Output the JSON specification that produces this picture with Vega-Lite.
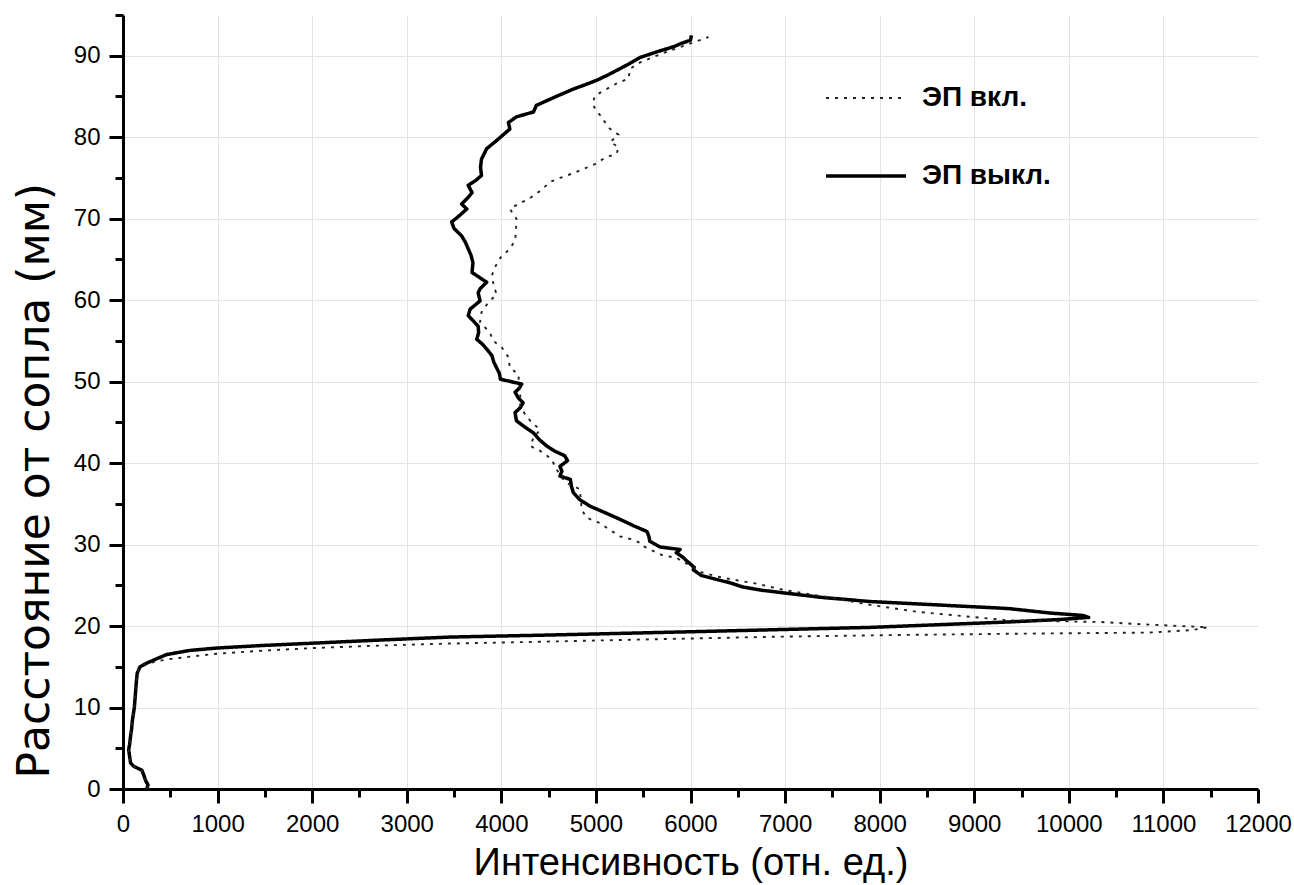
{
  "$schema": "https://vega.github.io/schema/vega-lite/v6.json",
  "width": 1135,
  "height": 774,
  "autosize": {"type": "none"},
  "padding": {"left": 123, "top": 15, "right": 36, "bottom": 96},
  "background": "white",
  "config": {
    "view": {"stroke": null},
    "font": "Liberation Sans",
    "axis": {"labelColor": "black", "titleColor": "black", "tickColor": "black", "domainColor": "black"}
  },
  "datasets": {
    "raw": [
      {"s":"ЭП выкл.","d":0,"i":250},{"s":"ЭП выкл.","d":0.5,"i":265},{"s":"ЭП выкл.","d":1,"i":240},{"s":"ЭП выкл.","d":1.7,"i":220},{"s":"ЭП выкл.","d":2.3,"i":200},{"s":"ЭП выкл.","d":2.8,"i":110},{"s":"ЭП выкл.","d":3.2,"i":80},{"s":"ЭП выкл.","d":4,"i":70},{"s":"ЭП выкл.","d":4.8,"i":60},{"s":"ЭП выкл.","d":5.5,"i":70},{"s":"ЭП выкл.","d":6.5,"i":80},{"s":"ЭП выкл.","d":7.3,"i":90},{"s":"ЭП выкл.","d":8.5,"i":100},{"s":"ЭП выкл.","d":10,"i":120},{"s":"ЭП выкл.","d":11.5,"i":130},{"s":"ЭП выкл.","d":13,"i":140},{"s":"ЭП выкл.","d":14.2,"i":150},{"s":"ЭП выкл.","d":15,"i":180},{"s":"ЭП выкл.","d":15.5,"i":260},{"s":"ЭП выкл.","d":16,"i":360},{"s":"ЭП выкл.","d":16.5,"i":461},{"s":"ЭП выкл.","d":17,"i":700},{"s":"ЭП выкл.","d":17.3,"i":990},{"s":"ЭП выкл.","d":17.6,"i":1450},{"s":"ЭП выкл.","d":17.9,"i":2012},{"s":"ЭП выкл.","d":18.3,"i":2750},{"s":"ЭП выкл.","d":18.65,"i":3457},{"s":"ЭП выкл.","d":18.9,"i":4515},{"s":"ЭП выкл.","d":19.3,"i":6000},{"s":"ЭП выкл.","d":19.84,"i":7910},{"s":"ЭП выкл.","d":20.5,"i":9360},{"s":"ЭП выкл.","d":20.8,"i":9900},{"s":"ЭП выкл.","d":21.06,"i":10210},{"s":"ЭП выкл.","d":21.3,"i":10150},{"s":"ЭП выкл.","d":21.6,"i":9800},{"s":"ЭП выкл.","d":22.15,"i":9360},{"s":"ЭП выкл.","d":22.6,"i":8600},{"s":"ЭП выкл.","d":23,"i":7910},{"s":"ЭП выкл.","d":23.5,"i":7400},{"s":"ЭП выкл.","d":24,"i":7036},{"s":"ЭП выкл.","d":24.4,"i":6750},{"s":"ЭП выкл.","d":24.8,"i":6551},{"s":"ЭП выкл.","d":25.3,"i":6420},{"s":"ЭП выкл.","d":25.8,"i":6250},{"s":"ЭП выкл.","d":26.2,"i":6115},{"s":"ЭП выкл.","d":26.9,"i":6030},{"s":"ЭП выкл.","d":27.2,"i":6040},{"s":"ЭП выкл.","d":28,"i":5960},{"s":"ЭП выкл.","d":28.45,"i":5920},{"s":"ЭП выкл.","d":29,"i":5850},{"s":"ЭП выкл.","d":29.4,"i":5890},{"s":"ЭП выкл.","d":29.7,"i":5680},{"s":"ЭП выкл.","d":30.4,"i":5570},{"s":"ЭП выкл.","d":31,"i":5560},{"s":"ЭП выкл.","d":31.6,"i":5540},{"s":"ЭП выкл.","d":32.3,"i":5400},{"s":"ЭП выкл.","d":33.1,"i":5255},{"s":"ЭП выкл.","d":33.9,"i":5100},{"s":"ЭП выкл.","d":34.7,"i":4940},{"s":"ЭП выкл.","d":35.5,"i":4830},{"s":"ЭП выкл.","d":36.4,"i":4760},{"s":"ЭП выкл.","d":37.2,"i":4740},{"s":"ЭП выкл.","d":38,"i":4730},{"s":"ЭП выкл.","d":38.4,"i":4620},{"s":"ЭП выкл.","d":39,"i":4640},{"s":"ЭП выкл.","d":39.6,"i":4620},{"s":"ЭП выкл.","d":40.3,"i":4700},{"s":"ЭП выкл.","d":40.9,"i":4670},{"s":"ЭП выкл.","d":41.5,"i":4560},{"s":"ЭП выкл.","d":42.1,"i":4480},{"s":"ЭП выкл.","d":42.9,"i":4400},{"s":"ЭП выкл.","d":43.7,"i":4340},{"s":"ЭП выкл.","d":44.5,"i":4240},{"s":"ЭП выкл.","d":45.2,"i":4160},{"s":"ЭП выкл.","d":46.2,"i":4145},{"s":"ЭП выкл.","d":46.8,"i":4200},{"s":"ЭП выкл.","d":47.4,"i":4230},{"s":"ЭП выкл.","d":48,"i":4180},{"s":"ЭП выкл.","d":48.7,"i":4145},{"s":"ЭП выкл.","d":49.2,"i":4190},{"s":"ЭП выкл.","d":49.7,"i":4215},{"s":"ЭП выкл.","d":50.3,"i":3990},{"s":"ЭП выкл.","d":51,"i":3980},{"s":"ЭП выкл.","d":51.7,"i":3950},{"s":"ЭП выкл.","d":52.4,"i":3920},{"s":"ЭП выкл.","d":53.2,"i":3900},{"s":"ЭП выкл.","d":54,"i":3845},{"s":"ЭП выкл.","d":54.6,"i":3800},{"s":"ЭП выкл.","d":55.2,"i":3740},{"s":"ЭП выкл.","d":56,"i":3760},{"s":"ЭП выкл.","d":56.8,"i":3755},{"s":"ЭП выкл.","d":57.5,"i":3700},{"s":"ЭП выкл.","d":58.1,"i":3650},{"s":"ЭП выкл.","d":58.9,"i":3670},{"s":"ЭП выкл.","d":59.9,"i":3775},{"s":"ЭП выкл.","d":60.9,"i":3755},{"s":"ЭП выкл.","d":61.4,"i":3775},{"s":"ЭП выкл.","d":62.2,"i":3845},{"s":"ЭП выкл.","d":63.4,"i":3690},{"s":"ЭП выкл.","d":64.6,"i":3700},{"s":"ЭП выкл.","d":65.5,"i":3680},{"s":"ЭП выкл.","d":66.3,"i":3650},{"s":"ЭП выкл.","d":67.1,"i":3620},{"s":"ЭП выкл.","d":67.9,"i":3580},{"s":"ЭП выкл.","d":68.8,"i":3500},{"s":"ЭП выкл.","d":69.6,"i":3475},{"s":"ЭП выкл.","d":70.4,"i":3560},{"s":"ЭП выкл.","d":71.2,"i":3635},{"s":"ЭП выкл.","d":71.8,"i":3580},{"s":"ЭП выкл.","d":72.5,"i":3640},{"s":"ЭП выкл.","d":73.2,"i":3690},{"s":"ЭП выкл.","d":74.1,"i":3650},{"s":"ЭП выкл.","d":74.7,"i":3730},{"s":"ЭП выкл.","d":75.3,"i":3790},{"s":"ЭП выкл.","d":76.3,"i":3780},{"s":"ЭП выкл.","d":77.3,"i":3790},{"s":"ЭП выкл.","d":78,"i":3820},{"s":"ЭП выкл.","d":78.6,"i":3845},{"s":"ЭП выкл.","d":79.4,"i":3930},{"s":"ЭП выкл.","d":80.2,"i":4010},{"s":"ЭП выкл.","d":81,"i":4090},{"s":"ЭП выкл.","d":81.8,"i":4075},{"s":"ЭП выкл.","d":82.5,"i":4160},{"s":"ЭП выкл.","d":83.1,"i":4340},{"s":"ЭП выкл.","d":83.9,"i":4370},{"s":"ЭП выкл.","d":84.9,"i":4560},{"s":"ЭП выкл.","d":85.9,"i":4760},{"s":"ЭП выкл.","d":86.5,"i":4900},{"s":"ЭП выкл.","d":87,"i":5010},{"s":"ЭП выкл.","d":87.6,"i":5120},{"s":"ЭП выкл.","d":88.2,"i":5220},{"s":"ЭП выкл.","d":89,"i":5350},{"s":"ЭП выкл.","d":89.8,"i":5470},{"s":"ЭП выкл.","d":90.5,"i":5650},{"s":"ЭП выкл.","d":91.1,"i":5820},{"s":"ЭП выкл.","d":91.5,"i":5900},{"s":"ЭП выкл.","d":91.9,"i":6000},{"s":"ЭП выкл.","d":92.5,"i":6010},
      {"s":"ЭП вкл.","d":0,"i":250},{"s":"ЭП вкл.","d":0.5,"i":265},{"s":"ЭП вкл.","d":1,"i":240},{"s":"ЭП вкл.","d":1.7,"i":220},{"s":"ЭП вкл.","d":2.3,"i":200},{"s":"ЭП вкл.","d":2.8,"i":110},{"s":"ЭП вкл.","d":3.2,"i":80},{"s":"ЭП вкл.","d":4,"i":70},{"s":"ЭП вкл.","d":4.8,"i":60},{"s":"ЭП вкл.","d":5.5,"i":70},{"s":"ЭП вкл.","d":6.5,"i":80},{"s":"ЭП вкл.","d":7.3,"i":90},{"s":"ЭП вкл.","d":8.5,"i":100},{"s":"ЭП вкл.","d":10,"i":120},{"s":"ЭП вкл.","d":11.5,"i":130},{"s":"ЭП вкл.","d":13,"i":140},{"s":"ЭП вкл.","d":14.2,"i":150},{"s":"ЭП вкл.","d":15,"i":180},{"s":"ЭП вкл.","d":15.4,"i":250},{"s":"ЭП вкл.","d":15.9,"i":461},{"s":"ЭП вкл.","d":16.3,"i":750},{"s":"ЭП вкл.","d":16.6,"i":990},{"s":"ЭП вкл.","d":17,"i":1500},{"s":"ЭП вкл.","d":17.3,"i":2012},{"s":"ЭП вкл.","d":17.6,"i":2700},{"s":"ЭП вкл.","d":17.85,"i":3460},{"s":"ЭП вкл.","d":18.1,"i":4515},{"s":"ЭП вкл.","d":18.4,"i":5700},{"s":"ЭП вкл.","d":18.7,"i":6940},{"s":"ЭП вкл.","d":18.9,"i":8200},{"s":"ЭП вкл.","d":19.05,"i":9360},{"s":"ЭП вкл.","d":19.2,"i":10844},{"s":"ЭП вкл.","d":19.5,"i":11300},{"s":"ЭП вкл.","d":19.85,"i":11470},{"s":"ЭП вкл.","d":20.2,"i":10800},{"s":"ЭП вкл.","d":20.5,"i":10330},{"s":"ЭП вкл.","d":20.7,"i":9360},{"s":"ЭП вкл.","d":21.2,"i":8900},{"s":"ЭП вкл.","d":21.75,"i":8395},{"s":"ЭП вкл.","d":22.6,"i":7900},{"s":"ЭП вкл.","d":23.6,"i":7425},{"s":"ЭП вкл.","d":24.4,"i":7000},{"s":"ЭП вкл.","d":25.2,"i":6700},{"s":"ЭП вкл.","d":25.9,"i":6350},{"s":"ЭП вкл.","d":26.6,"i":6115},{"s":"ЭП вкл.","d":27.3,"i":6020},{"s":"ЭП вкл.","d":28,"i":5900},{"s":"ЭП вкл.","d":28.35,"i":5860},{"s":"ЭП вкл.","d":28.7,"i":5700},{"s":"ЭП вкл.","d":29.2,"i":5610},{"s":"ЭП вкл.","d":29.8,"i":5500},{"s":"ЭП вкл.","d":30.1,"i":5485},{"s":"ЭП вкл.","d":30.6,"i":5395},{"s":"ЭП вкл.","d":31,"i":5255},{"s":"ЭП вкл.","d":31.8,"i":5150},{"s":"ЭП вкл.","d":32.7,"i":5030},{"s":"ЭП вкл.","d":33.3,"i":4900},{"s":"ЭП вкл.","d":34.3,"i":4850},{"s":"ЭП вкл.","d":35.5,"i":4840},{"s":"ЭП вкл.","d":36.8,"i":4830},{"s":"ЭП вкл.","d":37.5,"i":4700},{"s":"ЭП вкл.","d":38.2,"i":4640},{"s":"ЭП вкл.","d":39.2,"i":4585},{"s":"ЭП вкл.","d":40.5,"i":4530},{"s":"ЭП вкл.","d":41.5,"i":4410},{"s":"ЭП вкл.","d":42.1,"i":4305},{"s":"ЭП вкл.","d":43.1,"i":4340},{"s":"ЭП вкл.","d":44.1,"i":4410},{"s":"ЭП вкл.","d":45,"i":4320},{"s":"ЭП вкл.","d":46,"i":4250},{"s":"ЭП вкл.","d":47,"i":4200},{"s":"ЭП вкл.","d":48.4,"i":4200},{"s":"ЭП вкл.","d":49.5,"i":4190},{"s":"ЭП вкл.","d":50.9,"i":4180},{"s":"ЭП вкл.","d":51.7,"i":4090},{"s":"ЭП вкл.","d":53,"i":4075},{"s":"ЭП вкл.","d":54.2,"i":4005},{"s":"ЭП вкл.","d":55,"i":3915},{"s":"ЭП вкл.","d":56,"i":3880},{"s":"ЭП вкл.","d":57.3,"i":3775},{"s":"ЭП вкл.","d":58.5,"i":3790},{"s":"ЭП вкл.","d":59.7,"i":3860},{"s":"ЭП вкл.","d":60.7,"i":3950},{"s":"ЭП вкл.","d":61.8,"i":3920},{"s":"ЭП вкл.","d":63,"i":3900},{"s":"ЭП вкл.","d":64,"i":3930},{"s":"ЭП вкл.","d":65.2,"i":3990},{"s":"ЭП вкл.","d":66.3,"i":4090},{"s":"ЭП вкл.","d":67.3,"i":4145},{"s":"ЭП вкл.","d":68.5,"i":4155},{"s":"ЭП вкл.","d":70,"i":4160},{"s":"ЭП вкл.","d":71.2,"i":4090},{"s":"ЭП вкл.","d":71.8,"i":4180},{"s":"ЭП вкл.","d":72.4,"i":4285},{"s":"ЭП вкл.","d":73.4,"i":4410},{"s":"ЭП вкл.","d":74.5,"i":4515},{"s":"ЭП вкл.","d":75,"i":4620},{"s":"ЭП вкл.","d":75.5,"i":4740},{"s":"ЭП вкл.","d":76.1,"i":4870},{"s":"ЭП вкл.","d":76.7,"i":4990},{"s":"ЭП вкл.","d":77.5,"i":5100},{"s":"ЭП вкл.","d":78,"i":5220},{"s":"ЭП вкл.","d":78.8,"i":5240},{"s":"ЭП вкл.","d":79.4,"i":5150},{"s":"ЭП вкл.","d":80.3,"i":5240},{"s":"ЭП вкл.","d":81.2,"i":5130},{"s":"ЭП вкл.","d":82.5,"i":5060},{"s":"ЭП вкл.","d":83.3,"i":5000},{"s":"ЭП вкл.","d":84.1,"i":4965},{"s":"ЭП вкл.","d":85.1,"i":4990},{"s":"ЭП вкл.","d":85.9,"i":5110},{"s":"ЭП вкл.","d":86.6,"i":5220},{"s":"ЭП вкл.","d":87.2,"i":5345},{"s":"ЭП вкл.","d":88.4,"i":5360},{"s":"ЭП вкл.","d":89.2,"i":5470},{"s":"ЭП вкл.","d":89.8,"i":5600},{"s":"ЭП вкл.","d":90.5,"i":5750},{"s":"ЭП вкл.","d":91.1,"i":5900},{"s":"ЭП вкл.","d":91.7,"i":6050},{"s":"ЭП вкл.","d":92.3,"i":6190}
    ]
  },
  "data": {"name": "raw"},
  "layer": [
    {
      "mark": {"type": "line", "opacity": 0},
      "encoding": {
        "x": {"field": "i", "type": "quantitative", "scale": {"domain": [0, 12000], "nice": false},
          "axis": {"orient": "bottom", "values": [1000,2000,3000,4000,5000,6000,7000,8000,9000,10000,11000], "grid": true, "gridColor": "#e4e4e4", "gridWidth": 1, "ticks": false, "labels": false, "domain": false, "title": null}},
        "y": {"field": "d", "type": "quantitative", "scale": {"domain": [0, 95], "nice": false},
          "axis": {"orient": "left", "values": [10,20,30,40,50,60,70,80,90], "grid": true, "gridColor": "#e4e4e4", "gridWidth": 1, "ticks": false, "labels": false, "domain": false, "title": null}},
        "detail": {"field": "s"},
        "order": {"field": "d"}
      }
    },
    {
      "mark": {"type": "line", "opacity": 0},
      "encoding": {
        "x": {"field": "i", "type": "quantitative", "scale": {"domain": [0, 12000], "nice": false},
          "axis": {"orient": "bottom", "values": [500,1500,2500,3500,4500,5500,6500,7500,8500,9500,10500,11500], "grid": false, "ticks": true, "tickSize": 8, "tickWidth": 3, "labels": false, "domain": false, "title": null}},
        "y": {"field": "d", "type": "quantitative", "scale": {"domain": [0, 95], "nice": false},
          "axis": {"orient": "left", "values": [5,15,25,35,45,55,65,75,85,95], "grid": false, "ticks": true, "tickSize": 8, "tickWidth": 3, "labels": false, "domain": false, "title": null}},
        "detail": {"field": "s"},
        "order": {"field": "d"}
      }
    },
    {
      "mark": {"type": "line", "strokeJoin": "round", "strokeCap": "butt"},
      "encoding": {
        "x": {"field": "i", "type": "quantitative", "scale": {"domain": [0, 12000], "nice": false},
          "axis": {"orient": "bottom", "values": [0,1000,2000,3000,4000,5000,6000,7000,8000,9000,10000,11000,12000], "format": "d", "grid": false, "tickSize": 14, "tickWidth": 3, "domainWidth": 3, "labelFontSize": 24, "labelPadding": 9, "labelFlush": false, "labelOverlap": false, "title": "Интенсивность (отн. ед.)", "titleFontSize": 38, "titleFontWeight": "normal", "titlePadding": 8}},
        "y": {"field": "d", "type": "quantitative", "scale": {"domain": [0, 95], "nice": false},
          "axis": {"orient": "left", "values": [0,10,20,30,40,50,60,70,80,90], "format": "d", "grid": false, "tickSize": 14, "tickWidth": 3, "domainWidth": 3, "labelFontSize": 24, "labelPadding": 9, "labelFlush": false, "labelOverlap": false, "title": "Расстояние от сопла (мм)", "titleFont": "DejaVu Sans", "titleFontSize": 44, "titleFontWeight": "normal", "titlePadding": 16, "titleAnchor": "start", "titleY": 763}},
        "order": {"field": "d"},
        "color": {"field": "s", "type": "nominal", "scale": {"domain": ["ЭП вкл.", "ЭП выкл."], "range": ["#222222", "#000000"]},
          "legend": {"orient": "none", "legendX": 701, "legendY": 42, "title": null, "symbolType": "stroke", "symbolSize": 6400, "labelFontSize": 28, "labelFontWeight": "bold", "labelColor": "black", "labelOffset": 14, "rowPadding": 22, "padding": 0}},
        "strokeDash": {"field": "s", "type": "nominal", "scale": {"domain": ["ЭП вкл.", "ЭП выкл."], "range": [[3, 6], [1, 0]]}},
        "strokeWidth": {"field": "s", "type": "nominal", "scale": {"domain": ["ЭП вкл.", "ЭП выкл."], "range": [1.9, 3.5]}}
      }
    }
  ],
  "resolve": {"axis": {"x": "independent", "y": "independent"}}
}
